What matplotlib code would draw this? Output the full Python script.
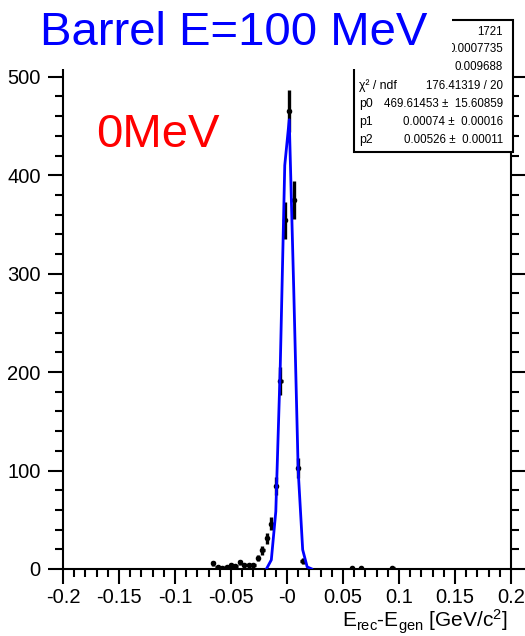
import numpy as np
import matplotlib.pyplot as plt
from matplotlib.patches import Rectangle
from matplotlib.ticker import MultipleLocator

plt.rcParams['font.family'] = ['Liberation Sans', 'DejaVu Sans']
plt.rcParams['mathtext.fontset'] = 'custom'
plt.rcParams['mathtext.rm'] = 'Liberation Sans'
plt.rcParams['mathtext.it'] = 'Liberation Sans'

# histogram contents (bin width 0.004)
bin_centers = [-0.066, -0.062, -0.058, -0.054, -0.050, -0.046, -0.042, -0.038,
               -0.034, -0.030, -0.026, -0.022, -0.018, -0.014, -0.010, -0.006,
               -0.002, 0.002, 0.006, 0.010, 0.014, 0.058, 0.066, 0.094]
counts = [6, 2, 1, 2, 4, 3, 7, 4,
          4, 4, 11, 19, 31, 46, 84, 191,
          354, 465, 375, 103, 8, 1, 1, 1]
bin_width = 0.004

# gaussian fit shown in the stats box
p0, p1, p2 = 469.61453, 0.00074, 0.00526
fit_x = [-0.018, -0.014, -0.010, -0.006, -0.002, 0.002, 0.006, 0.010, 0.014, 0.018, 0.022]

xticks = [-0.2, -0.15, -0.1, -0.05, 0.0, 0.05, 0.1, 0.15, 0.2]
xticklabels = ['-0.2', '-0.15', '-0.1', '-0.05', '-0', '0.05', '0.1', '0.15', '0.2']

# first three labels (Entries, Mean, RMS) are hidden under the title pave
stat_labels = ['', '', '', 'χ² / ndf', 'p0', 'p1', 'p2']
stat_values = ['1721', '0.0007735', '0.009688', '176.41319 / 20',
               '469.61453 ±  15.60859', '0.00074 ±  0.00016', '0.00526 ±  0.00011']

W, H = 525, 636
fig = plt.figure(figsize=(W / 100, H / 100), dpi=100)


def fx(x):
    return x / W


def fy(y):
    return 1 - y / H


ax = fig.add_axes([fx(63), fy(569), (511 - 63) / W, (569 - 62) / H])

counts = np.array(counts)
ax.errorbar(bin_centers, counts, xerr=bin_width / 2, yerr=np.sqrt(counts),
            fmt='o', ms=3, color='black', ecolor='black', elinewidth=2.4,
            capsize=0, zorder=2)

fit_x = np.array(fit_x)
fit_y = p0 * np.exp(-0.5 * ((fit_x - p1) / p2) ** 2)
ax.plot(fit_x, fit_y, color='#0000ff', lw=2, zorder=3)

ax.set_xlim(-0.2, 0.2)
ax.set_ylim(0, 515)
ax.set_xticks(xticks)
ax.set_xticklabels(xticklabels)
ax.xaxis.set_minor_locator(MultipleLocator(0.01))
ax.yaxis.set_major_locator(MultipleLocator(100))
ax.yaxis.set_minor_locator(MultipleLocator(20))
ax.spines['top'].set_visible(False)
for s in ['left', 'right', 'bottom']:
    ax.spines[s].set_linewidth(1.5)
ax.tick_params(which='both', direction='out', right=True, width=1.5, labelsize=14.5)
ax.tick_params(which='major', length=11, pad=3)
ax.tick_params(which='minor', length=6)
ax.tick_params(axis='y', which='major', pad=5)

fig.text(fx(508), fy(628), r'E$_{\rm rec}$-E$_{\rm gen}$ [GeV/c$^{2}$]',
         ha='right', va='baseline', fontsize=15)

# stats box
fig.add_artist(Rectangle((fx(354), fy(152)), (513 - 354) / W, (152 - 20) / H,
                         transform=fig.transFigure, facecolor='white',
                         edgecolor='black', lw=1.5, zorder=5))
row_y = [32, 49, 67, 86, 104, 122, 140]
for lab, val, y in zip(stat_labels, stat_values, row_y):
    if lab:
        fig.text(fx(359), fy(y), lab, ha='left', va='center', fontsize=8.8, zorder=6)
    fig.text(fx(503), fy(y), val, ha='right', va='center', fontsize=8.3, zorder=6)

# title pave (hides part of the stats box)
fig.add_artist(Rectangle((fx(19), fy(69)), (452 - 19) / W, 69 / H,
                         transform=fig.transFigure, facecolor='white',
                         edgecolor='none', zorder=7))
fig.text(fx(234), fy(45), 'Barrel E=100 MeV', ha='center', va='baseline',
         fontsize=34, color='#0000ff', zorder=8)

fig.text(fx(96), fy(147), '0MeV', ha='left', va='baseline', fontsize=34,
         color='#ff0000', zorder=8)

fig.savefig('out.png', dpi=100)
